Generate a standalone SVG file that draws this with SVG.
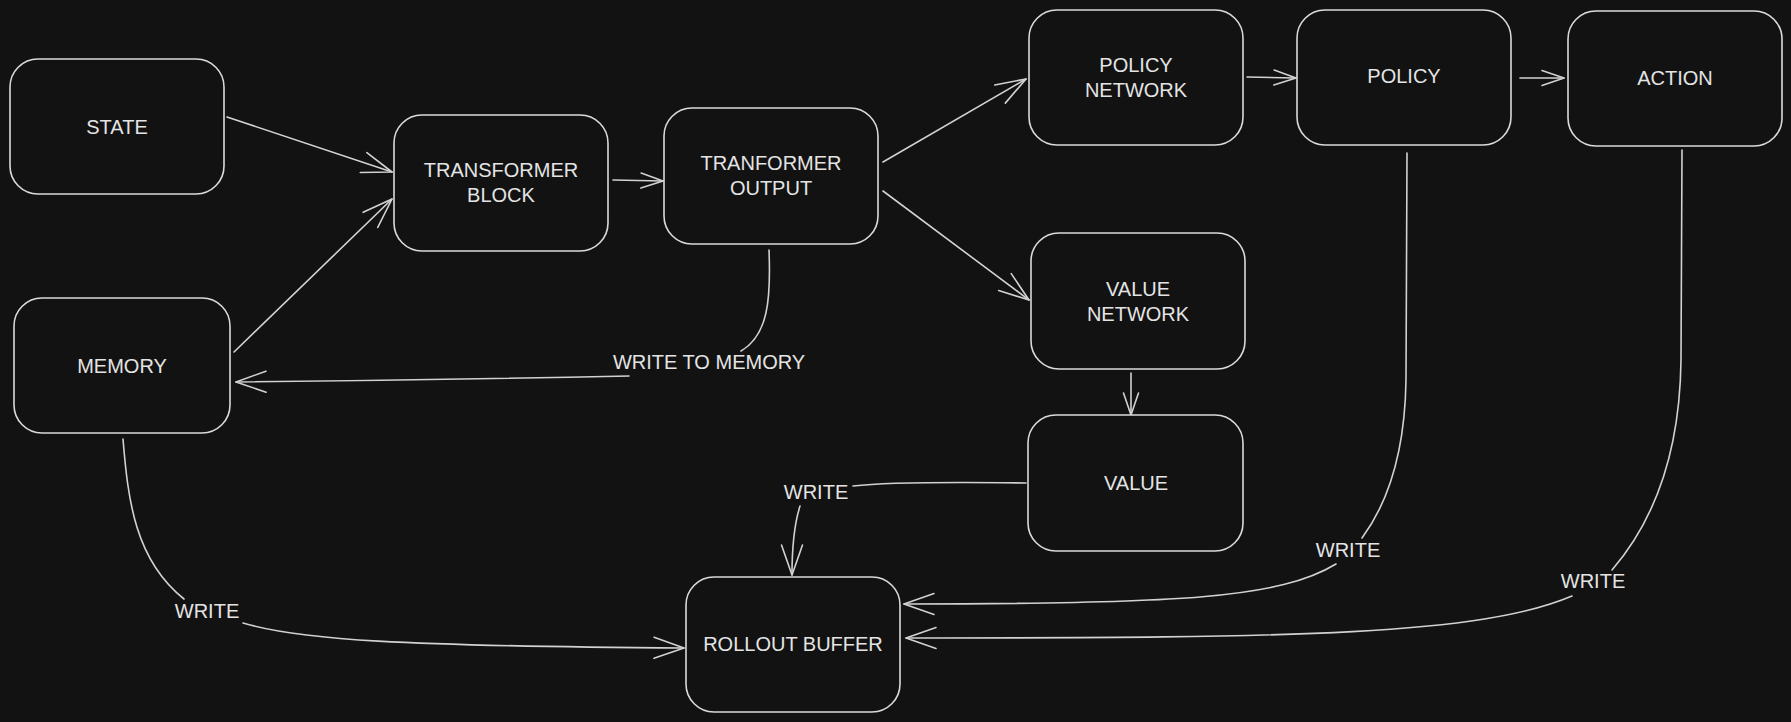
<svg xmlns="http://www.w3.org/2000/svg" width="1791" height="722" viewBox="0 0 1791 722">
<style>
.box{fill:#121212;stroke:#dadada;stroke-width:1.6}
.t{font-family:"Liberation Sans",Arial,sans-serif;font-size:20px;fill:#e4e4e4;text-anchor:middle}
.e{fill:none;stroke:#d2d2d2;stroke-width:1.6;stroke-linecap:round}
.ea{marker-end:url(#ah)}
.es{marker-end:url(#as)}
</style>
<defs>
<marker id="ah" markerUnits="userSpaceOnUse" markerWidth="40" markerHeight="30" viewBox="-34 -15 40 30" refX="0" refY="0" orient="auto" overflow="visible">
<path d="M-30,-10.5 L0,0 L-30,10.5" fill="none" stroke="#d2d2d2" stroke-width="1.6" stroke-linecap="round" stroke-linejoin="round"/>
</marker>
<marker id="as" markerUnits="userSpaceOnUse" markerWidth="30" markerHeight="20" viewBox="-26 -10 30 20" refX="0" refY="0" orient="auto" overflow="visible">
<path d="M-22,-7.5 L0,0 L-22,7.5" fill="none" stroke="#d2d2d2" stroke-width="1.6" stroke-linecap="round" stroke-linejoin="round"/>
</marker>
</defs>
<rect x="0" y="0" width="1791" height="722" fill="#121212"/>

<g id="connectors">
<path class="e ea" d="M227,117 L392,172"/>
<path class="e ea" d="M234,352 L392,199"/>
<path class="e es" d="M613,180 L663,181"/>
<path class="e ea" d="M883,162 L1026,79"/>
<path class="e ea" d="M883,191 L1029,300"/>
<path class="e es" d="M1247,77 L1296,78"/>
<path class="e es" d="M1520,78 L1564,78"/>
<path class="e es" d="M1131,373 L1131,415"/>
<path class="e" d="M769,250 C771,300 768,335 741,351"/>
<path class="e ea" d="M629,376 Q430,380 236,382"/>
<text class="t" x="709" y="369">WRITE TO MEMORY</text>
<path class="e" d="M1026,483 C950,482 880,483 853,486"/>
<path class="e ea" d="M800,506 C794,525 792,545 792,575"/>
<text class="t" x="816" y="499">WRITE</text>
<path class="e" d="M1407,153 L1406,380 C1405,450 1390,500 1362,538"/>
<path class="e ea" d="M1336,564 C1280,598 1180,604 904,604"/>
<text class="t" x="1348" y="557">WRITE</text>
<path class="e" d="M1682,150 L1681,360 C1680,450 1655,520 1612,570"/>
<path class="e ea" d="M1572,596 C1480,635 1300,638 906,638"/>
<text class="t" x="1593" y="588">WRITE</text>
<path class="e" d="M123,439 C128,500 135,560 184,599"/>
<path class="e ea" d="M243,623 C300,640 400,646 684,648"/>
<text class="t" x="207" y="618">WRITE</text>
</g>

<g id="state"><rect class="box" x="10" y="59" width="214" height="135" rx="28"/><text class="t" x="117" y="134">STATE</text></g>
<g id="memory"><rect class="box" x="14" y="298" width="216" height="135" rx="28"/><text class="t" x="122" y="373">MEMORY</text></g>
<g id="transformer-block"><rect class="box" x="394" y="115" width="214" height="136" rx="28"/><text class="t" x="501" y="177">TRANSFORMER</text><text class="t" x="501" y="202">BLOCK</text></g>
<g id="transformer-output"><rect class="box" x="664" y="108" width="214" height="136" rx="28"/><text class="t" x="771" y="170">TRANFORMER</text><text class="t" x="771" y="195">OUTPUT</text></g>
<g id="policy-network"><rect class="box" x="1029" y="10" width="214" height="135" rx="28"/><text class="t" x="1136" y="72">POLICY</text><text class="t" x="1136" y="97">NETWORK</text></g>
<g id="policy"><rect class="box" x="1297" y="10" width="214" height="135" rx="28"/><text class="t" x="1404" y="83">POLICY</text></g>
<g id="action"><rect class="box" x="1568" y="11" width="214" height="135" rx="28"/><text class="t" x="1675" y="85">ACTION</text></g>
<g id="value-network"><rect class="box" x="1031" y="233" width="214" height="136" rx="28"/><text class="t" x="1138" y="296">VALUE</text><text class="t" x="1138" y="321">NETWORK</text></g>
<g id="value"><rect class="box" x="1028" y="415" width="215" height="136" rx="28"/><text class="t" x="1136" y="490">VALUE</text></g>
<g id="rollout-buffer"><rect class="box" x="686" y="577" width="214" height="135" rx="28"/><text class="t" x="793" y="651">ROLLOUT BUFFER</text></g>
</svg>
